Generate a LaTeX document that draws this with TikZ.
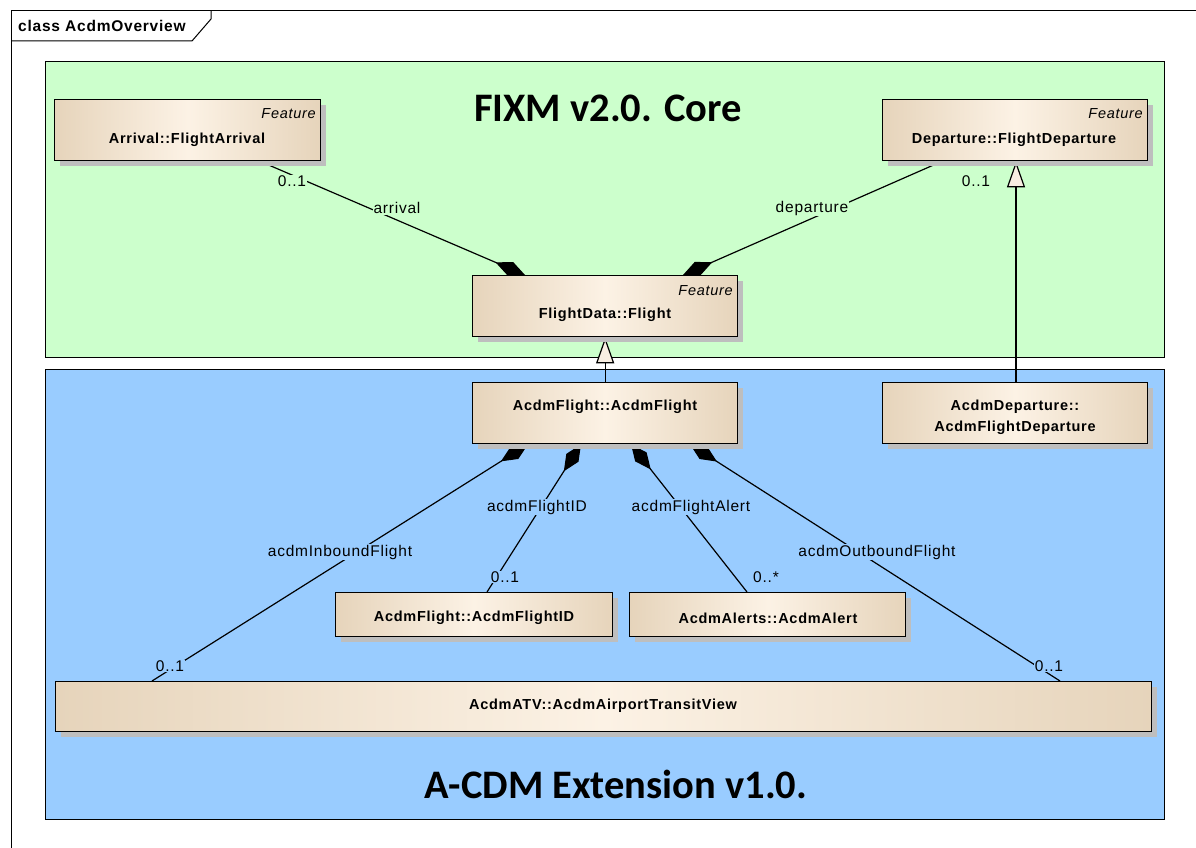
\documentclass[tikz,border=0pt]{standalone}
\usepackage{fontspec}
\setmainfont{Liberation Sans}
\newfontfamily\titlefont{Carlito}
\newfontfamily\spacedfont[LetterSpace=5]{Liberation Sans}
\usetikzlibrary{arrows.meta,shadows,calc}
\pgfdeclarelayer{bg}
\pgfdeclarelayer{links}
\pgfsetlayers{bg,links,main}

\definecolor{pkggreen}{HTML}{CCFFCC}
\definecolor{pkgblue}{HTML}{99CCFF}
\definecolor{beigeD}{HTML}{E6D4BB}
\definecolor{beigeL}{HTML}{FCF2E5}
\definecolor{shadowgray}{HTML}{BEBEBE}
\definecolor{tricream}{HTML}{F8EEE2}

\tikzset{
  pkg/.style={draw=black, line width=1.2pt, anchor=north west, inner sep=0pt},
  pkgtitle/.style={font=\titlefont\bfseries\fontsize{40.5}{46}\selectfont},
  cls/.style={draw=black, line width=1.3pt, left color=beigeD, right color=beigeD,
    middle color=beigeL, anchor=north west, inner sep=0pt,
    drop shadow={shadow xshift=5pt, shadow yshift=-5pt, fill=shadowgray, opacity=1}},
  clsname/.style={font=\spacedfont\bfseries\fontsize{14.5}{18}\selectfont, align=center, inner sep=0pt},
  stereo/.style={font=\spacedfont\itshape\fontsize{14.5}{18}\selectfont, anchor=east, inner sep=0pt},
  lbl/.style={font=\spacedfont\fontsize{15.5}{18}\selectfont, inner sep=1pt},
  comp/.style={line width=1.2pt, -{Diamond[length=32pt,width=14.5pt]}},
  gen/.style={line width=1.2pt, -{Triangle[length=26pt,width=18pt,fill=tricream]}},
}

\begin{document}
\begin{tikzpicture}[x=1pt,y=-1pt]
\useasboundingbox (0,0) rectangle (1196,848);

% packages
\begin{pgfonlayer}{bg}
\fill[white] (0,0) rectangle (1196,848);
\node[pkg, fill=pkggreen, minimum width=1119pt, minimum height=296pt] (core) at (45,61) {};
\node[pkg, fill=pkgblue, minimum width=1119pt, minimum height=450pt] (ext) at (45,369) {};
\end{pgfonlayer}
\node[pkgtitle] (coreT) at (608,108) {FIXM v2.0. Core};
\node[pkgtitle] (extT) at (616,784) {A-CDM Extension v1.0.};

% diagram frame and its name tab
\draw[line width=1pt] (11,848) -- (11,11) -- (1196,11);
\draw[line width=1pt] (11,41) -- (192,41) -- (211,19) -- (211,11);
\node[anchor=west, inner sep=0pt, font=\spacedfont\bfseries\fontsize{15.5}{18}\selectfont] (frameT) at (18,26) {class AcdmOverview};

% classes of the core package
\node[cls, minimum width=266pt, minimum height=61pt] (arr) at (54,99) {};
\node[clsname] (arrN) at (187,140) {Arrival::FlightArrival};
\node[stereo] (arrS) at (316,114) {Feature};

\node[cls, minimum width=265pt, minimum height=61pt] (dep) at (882,99) {};
\node[clsname] (depN) at (1014,140) {Departure::FlightDeparture};
\node[stereo] (depS) at (1143,114) {Feature};

\node[cls, minimum width=265pt, minimum height=61pt] (flt) at (472,275) {};
\node[clsname] (fltN) at (605,315) {FlightData::Flight};
\node[stereo] (fltS) at (733,291) {Feature};

% classes of the extension package
\node[cls, minimum width=265pt, minimum height=61pt] (acf) at (472,382) {};
\node[clsname] (acfN) at (605,407) {AcdmFlight::AcdmFlight};

\node[cls, minimum width=265pt, minimum height=61pt] (adp) at (882,382) {};
\node[clsname] (adpN) at (1015,417.5) {AcdmDeparture::\\[3pt]AcdmFlightDeparture};

\node[cls, minimum width=277pt, minimum height=44pt] (fid) at (335,592) {};
\node[clsname] (fidN) at (474,618) {AcdmFlight::AcdmFlightID};

\node[cls, minimum width=276pt, minimum height=44pt] (alt) at (629,592) {};
\node[clsname] (altN) at (768,618) {AcdmAlerts::AcdmAlert};

\node[cls, minimum width=1096pt, minimum height=50pt] (atv) at (55,681) {};
\node[clsname] (atvN) at (603,706) {AcdmATV::AcdmAirportTransitView};

% connectors
\begin{pgfonlayer}{links}
\draw[comp] ($(arr.south west)+(206,0)$) -- ($(flt.north west)+(53,0)$);
\draw[comp] ($(dep.south west)+(60,0)$) -- ($(flt.north west)+(211,0)$);
\draw[gen] (acf.north) -- (flt.south);
\draw[gen] ($(adp.north west)+(134,0)$) -- ($(dep.south west)+(134,0)$);
\draw[comp] ($(atv.north west)+(97,0)$) -- ($(acf.south west)+(56,0)$);
\draw[comp] ($(fid.north west)+(152,0)$) -- ($(acf.south west)+(109,0)$);
\draw[comp] ($(alt.north west)+(118,0)$) -- ($(acf.south west)+(159,0)$);
\draw[comp] ($(atv.north west)+(1005,0)$) -- ($(acf.south west)+(218,0)$);
\end{pgfonlayer}

% role names and multiplicities
\node[lbl, fill=pkggreen] (mArr) at (292,181) {0..1};
\node[lbl, fill=pkggreen] (rArr) at (397,208) {arrival};
\node[lbl, fill=pkggreen] (rDep) at (812,208) {departure};
\node[lbl, fill=pkggreen] (mDep) at (976,181) {0..1};

\node[lbl, fill=pkgblue] (rIn) at (340,552) {acdmInboundFlight};
\node[lbl, fill=pkgblue] (mIn) at (170,666) {0..1};
\node[lbl, fill=pkgblue] (rId) at (537,507) {acdmFlightID};
\node[lbl, fill=pkgblue] (mId) at (505,577) {0..1};
\node[lbl, fill=pkgblue] (rAl) at (691,507) {acdmFlightAlert};
\node[lbl, fill=pkgblue] (mAl) at (766,577) {0..*};
\node[lbl, fill=pkgblue] (rOut) at (877,552) {acdmOutboundFlight};
\node[lbl, fill=pkgblue] (mOut) at (1049,666) {0..1};
\end{tikzpicture}
\end{document}
